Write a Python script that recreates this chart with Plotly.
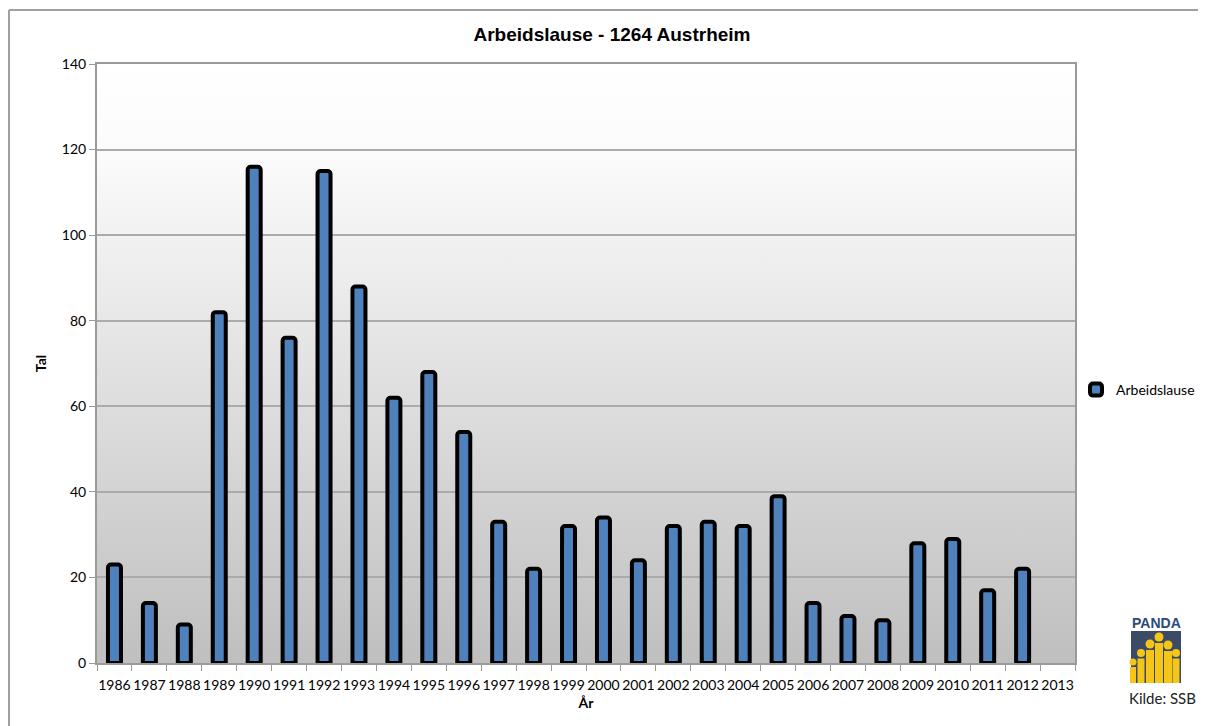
import base64
import plotly.graph_objects as go

# ---- data ----
years = [str(y) for y in range(1986, 2014)]
arbeidslause = [23, 14, 9, 82, 116, 76, 115, 88, 62, 68, 54, 33, 22, 32, 34, 24,
                32, 33, 32, 39, 14, 11, 10, 28, 29, 17, 22, None]
y_ticks = [0, 20, 40, 60, 80, 100, 120, 140]

OFF = 8  # page body margin
W, H = 1206 - OFF, 726 - OFF
# plot area in page pixels
PL, PR, PT, PB = 97, 1075, 64, 663
L, R, T, B = PL - OFF, PR - OFF, PT - OFF, PB - OFF


def px(x):
    return (x - PL) / (PR - PL)


def py(y):
    return (PB - y) / (PB - PT)


fig = go.Figure()
fig.add_trace(go.Bar(
    x=years, y=arbeidslause, name="Arbeidslause",
    marker=dict(color="#4f81bd", line=dict(color="#000000", width=4), cornerradius=3),
))

# gradient background of plot area
svg = ('<svg xmlns="http://www.w3.org/2000/svg" width="100" height="100" preserveAspectRatio="none">'
       '<defs><linearGradient id="g" x1="0" y1="0" x2="0" y2="1">'
       '<stop offset="0" stop-color="#ffffff"/><stop offset="0.15" stop-color="#fbfbfb"/>'
       '<stop offset="1" stop-color="#bfbfbf"/></linearGradient></defs>'
       '<rect width="100" height="100" fill="url(#g)"/></svg>')
src = "data:image/svg+xml;base64," + base64.b64encode(svg.encode()).decode()

shapes = []
# outer chart border
shapes.append(dict(type="line", xref="paper", yref="paper", x0=px(9), x1=px(1215), y0=py(10), y1=py(10),
                   line=dict(color="#a0a0a0", width=2)))
shapes.append(dict(type="line", xref="paper", yref="paper", x0=px(9), x1=px(9), y0=py(10), y1=py(740),
                   line=dict(color="#a0a0a0", width=2)))

# PANDA logo
shapes.append(dict(type="rect", xref="paper", yref="paper", x0=px(1131), x1=px(1181), y0=py(683), y1=py(631),
                   fillcolor="#3b4a66", line=dict(width=0)))
figs = [(1133, 662, 3.5), (1141, 653, 4), (1150, 644, 4.5), (1159, 637, 4.5),
        (1168, 645, 4.5), (1176, 653, 4)]
for cx, cy, r in figs:
    shapes.append(dict(type="circle", xref="paper", yref="paper", x0=px(cx - r), x1=px(cx + r),
                       y0=py(cy + r), y1=py(cy - r), fillcolor="#f5c518", line=dict(width=0)))
    shapes.append(dict(type="rect", xref="paper", yref="paper", x0=px(cx - r + 0.5), x1=px(cx + r - 0.5),
                       y0=py(683), y1=py(cy + r + 1.5), fillcolor="#f5c518", line=dict(width=0)))

annotations = [
    dict(text="<b>PANDA</b>", xref="paper", yref="paper", x=px(1156), y=py(623), showarrow=False,
         font=dict(family="Liberation Sans", size=14, color="#2d4a7a"), xanchor="center", yanchor="middle"),
    dict(text="Kilde: SSB", xref="paper", yref="paper", x=px(1162), y=py(698), showarrow=False,
         font=dict(family="Lato", size=15, color="#222222"), xanchor="center", yanchor="middle"),
]

fig.update_layout(
    width=W, height=H,
    margin=dict(l=L, r=W - R, t=T, b=H - B, autoexpand=False),
    paper_bgcolor="#ffffff",
    plot_bgcolor="rgba(0,0,0,0)",
    title=dict(text="<b>Arbeidslause - 1264 Austrheim</b>", x=(612 - OFF) / W, xref="container",
               xanchor="center", y=1 - (34 - OFF) / H, yref="container", yanchor="middle",
               font=dict(family="Liberation Sans", size=19, color="#000000")),
    bargap=0.628,
    showlegend=True,
    legend=dict(x=px(1076), y=py(390), xanchor="left", yanchor="middle", bgcolor="rgba(0,0,0,0)",
                font=dict(family="Lato", size=14, color="#000000"), itemwidth=30),
    font=dict(family="Lato", size=14, color="#000000"),
    images=[dict(source=src, xref="paper", yref="paper", x=0, y=1, sizex=1, sizey=1,
                 sizing="stretch", layer="below", xanchor="left", yanchor="top")],
    shapes=shapes,
    annotations=annotations,
)

fig.update_xaxes(
    type="category", categoryorder="array", categoryarray=years,
    showgrid=False, showline=True, linecolor="#9a9a9a", linewidth=2, mirror=True,
    ticks="outside", tickson="boundaries", ticklen=6, tickcolor="#9a9a9a", tickwidth=1,
    tickangle=0, ticklabelstandoff=8,
    tickfont=dict(family="Lato", size=14, color="#000000"),
    title=dict(text="<b>År</b>", font=dict(family="Lato", size=14, color="#000000"), standoff=6),
)
fig.update_yaxes(
    range=[0, 140], tickvals=y_ticks, showgrid=True, gridcolor="#ababab", gridwidth=1.5,
    zeroline=False, showline=True, linecolor="#9a9a9a", linewidth=2, mirror=True,
    ticks="outside", ticklen=6, tickcolor="#9a9a9a", tickwidth=1,
    tickfont=dict(family="Lato", size=14, color="#000000"),
    title=dict(text="<b>Tal</b>", font=dict(family="Lato", size=14, color="#000000"), standoff=12),
)

fig.write_html("out.html")
